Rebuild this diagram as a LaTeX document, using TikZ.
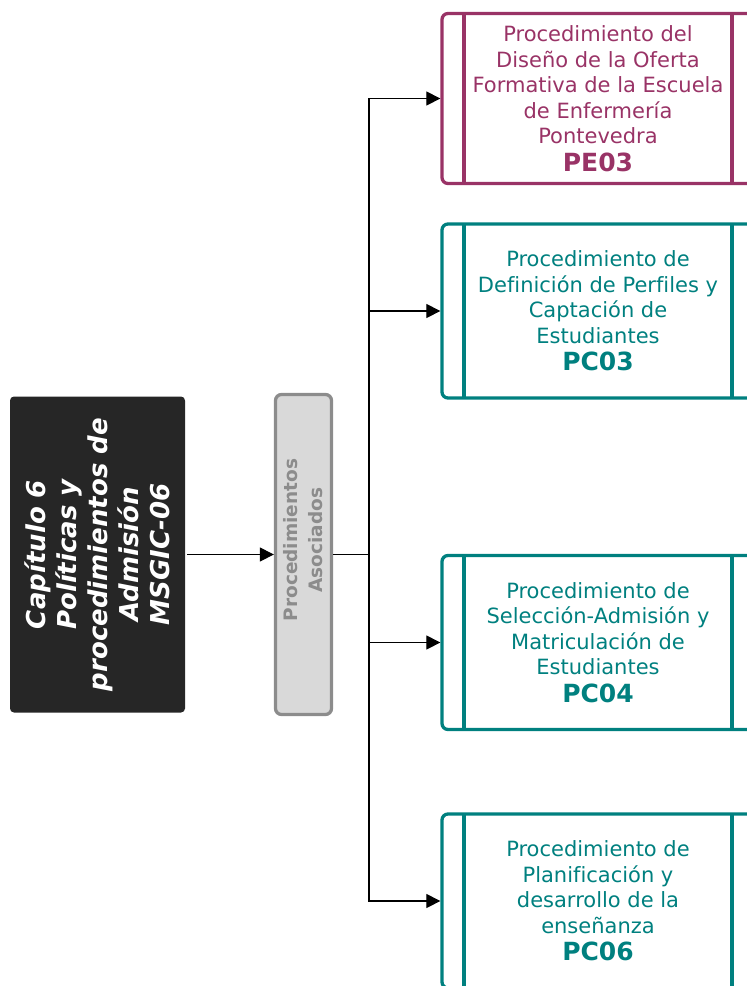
\documentclass[tikz,border=0pt]{standalone}
\usepackage{fontspec}
\setmainfont{DejaVu Sans}[Ligatures={NoCommon}]
\usetikzlibrary{arrows.meta}

\definecolor{plum}{HTML}{993366}
\definecolor{tealc}{HTML}{00807F}
\definecolor{darkbox}{HTML}{262626}
\definecolor{assocfill}{HTML}{D9D9D9}
\definecolor{assocgray}{HTML}{8C8C8C}

\tikzset{
  conn/.style={line width=1.2pt},
  arr/.style={conn,-{Triangle[length=14pt,width=14pt]}},
  chapbox/.style={fill=darkbox,rounded corners=4pt,text=white,align=center,
    font=\fontsize{26}{31}\selectfont\bfseries\itshape},
  assocbox/.style={draw=assocgray,fill=assocfill,line width=3.3pt,rounded corners=6pt},
  assoctext/.style={text=assocgray,align=center,font=\fontsize{18.5}{24.5}\selectfont\bfseries},
  procbox/.style={draw=#1,text=#1,line width=3.3pt,rounded corners=6pt,
    minimum width=312pt,align=center,font=\fontsize{21}{25.5}\selectfont,
    path picture={\draw[#1,line width=3.3pt]
      ([xshift=22pt]path picture bounding box.north west) -- ([xshift=22pt]path picture bounding box.south west)
      ([xshift=-22pt]path picture bounding box.north east) -- ([xshift=-22pt]path picture bounding box.south east);}},
}

\begin{document}
\begin{tikzpicture}[x=1pt,y=-1pt]
\useasboundingbox (0,0) rectangle (747,986);
\clip (0,0) rectangle (747,986);

\node[chapbox,rotate=90,minimum width=316pt,minimum height=175pt] (chap) at (97.5,554.5)
  {Capítulo 6\\Políticas y\\procedimientos de\\Admisión\\MSGIC-06};

\node[assocbox,minimum width=56pt,minimum height=320pt] (assoc) at (303.5,554.5) {};
\node[assoctext,rotate=90] (assoclbl) at (303,540) {Procedimientos\\Asociados};

\node[procbox=plum,minimum height=170pt] (pe03) at (598,98.5)
  {Procedimiento del\\Diseño de la Oferta\\Formativa de la Escuela\\de Enfermería\\Pontevedra\\[2pt]{\fontsize{25}{30}\selectfont\bfseries PE03}};
\node[procbox=tealc,minimum height=174pt] (pc03) at (598,311)
  {Procedimiento de\\Definición de Perfiles y\\Captación de\\Estudiantes\\[2pt]{\fontsize{25}{30}\selectfont\bfseries PC03}};
\node[procbox=tealc,minimum height=174pt] (pc04) at (598,642.5)
  {Procedimiento de\\Selección-Admisión y\\Matriculación de\\Estudiantes\\[2pt]{\fontsize{25}{30}\selectfont\bfseries PC04}};
\node[procbox=tealc,minimum height=174pt] (pc06) at (598,901)
  {Procedimiento de\\Planificación y\\desarrollo de la\\enseñanza\\[2pt]{\fontsize{25}{30}\selectfont\bfseries PC06}};

% connectors
\draw[arr] ([xshift=2pt]chap.south) -- (assoc.west);
\coordinate (bus) at (369,554.5);
\draw[conn] (assoc.east) -- (bus);
\foreach \n in {pe03,pc03,pc04,pc06}
  \draw[arr] (bus) |- (\n.west);

\end{tikzpicture}
\end{document}
